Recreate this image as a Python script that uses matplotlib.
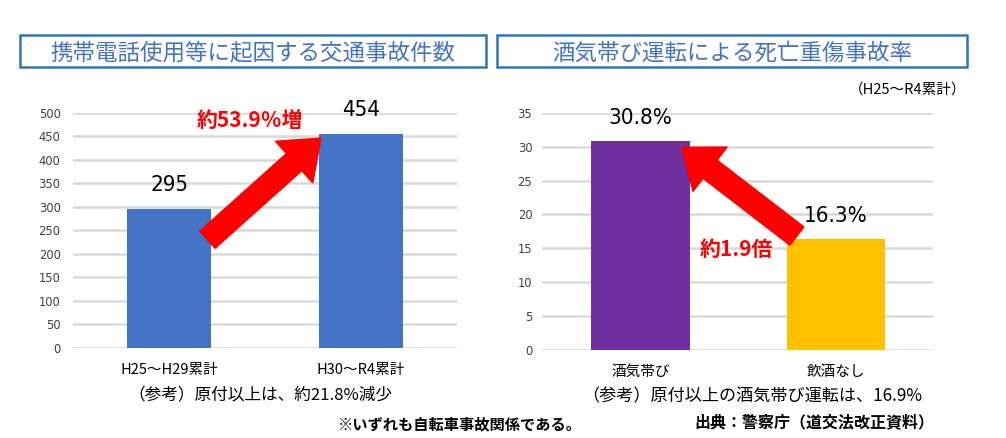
import matplotlib
matplotlib.use("Agg")
import matplotlib.pyplot as plt
import matplotlib.patches as mpatches
from matplotlib.transforms import IdentityTransform

plt.rcParams['font.family'] = ['Noto Sans CJK JP', 'DejaVu Sans']

# data
left_title = '携帯電話使用等に起因する交通事故件数'
left_cats = ['H25〜H29累計', 'H30〜R4累計']
left_vals = [295, 454]
left_labels = ['295', '454']
left_note = '（参考）原付以上は、約21.8%減少'
left_callout = '約53.9％増'

right_title = '酒気帯び運転による死亡重傷事故率'
right_cats = ['酒気帯び', '飲酒なし']
right_vals = [30.8, 16.3]
right_labels = ['30.8%', '16.3%']
right_note = '（参考）原付以上の酒気帯び運転は、16.9%'
right_callout = '約1.9倍'
right_period = '（H25〜R4累計）'

footnote = '※いずれも自転車事故関係である。'
source = '出典：警察庁（道交法改正資料）'

W, H = 1006, 438
fig = plt.figure(figsize=(W / 100, H / 100), dpi=100)
fig.patch.set_facecolor('white')


def fx(x):
    return x / W


def fy(y):
    return 1 - y / H


def axes_px(x0, x1, y_top, y_bot):
    return [fx(x0), fy(y_bot), (x1 - x0) / W, (y_bot - y_top) / H]


def style_axes(ax, ticks, pad):
    for s in ax.spines.values():
        s.set_visible(False)
    ax.set_yticks(ticks)
    ax.tick_params(axis='y', length=0, pad=pad, labelsize=8.3, labelcolor='#404040')
    ax.tick_params(axis='x', length=0, pad=11, labelsize=10.5, labelcolor='black')
    ax.grid(axis='y', color='#D9D9D9', linewidth=1.8)
    ax.set_axisbelow(True)
    for t in ax.get_yticklabels():
        t.set_family(['DejaVu Sans'])


def title_box(x0, x1, text):
    rect = mpatches.Rectangle((fx(x0), fy(67)), (x1 - x0) / W, 32 / H,
                              transform=fig.transFigure, fill=False,
                              edgecolor='#2E75B6', linewidth=1.8)
    fig.add_artist(rect)
    fig.text(fx((x0 + x1) / 2), fy(53), text, ha='center', va='center',
             fontsize=16.2, color='#4472C4')


def big_arrow(ax, tail, tip):
    t0 = ax.transData.transform(tail)
    t1 = ax.transData.transform(tip)
    arr = mpatches.FancyArrow(t0[0], t0[1], t1[0] - t0[0], t1[1] - t0[1],
                              width=23, head_width=56, head_length=36,
                              length_includes_head=True, color='#FF0000',
                              transform=IdentityTransform(), zorder=5)
    fig.add_artist(arr)


# left chart
ax1 = fig.add_axes(axes_px(73, 457, 112.7, 348))
w1 = 0.4375
ax1.bar(range(len(left_vals)), left_vals, width=w1, color='#4472C4', zorder=2)
ax1.set_xlim(-0.5, 1.5)
ax1.set_ylim(0, 500)
ax1.set_xticks(range(len(left_cats)))
ax1.set_xticklabels(left_cats)
style_axes(ax1, range(0, 501, 50), 9)
for i, (v, lab) in enumerate(zip(left_vals, left_labels)):
    ax1.text(i, v + 30, lab, ha='center', va='bottom', fontsize=16,
             family=['DejaVu Sans'], fontstretch='condensed', clip_on=False)
ax1.text(0.42, 483, left_callout, ha='center', va='center', fontsize=15,
         color='#FF0000', fontweight='bold', clip_on=False)

# right chart
ax2 = fig.add_axes(axes_px(542, 933, 112.7, 350))
w2 = 0.506
ax2.bar(range(len(right_vals)), right_vals, width=w2,
        color=['#7030A0', '#FFC000'], zorder=2)
ax2.set_xlim(-0.504, 1.496)
ax2.set_ylim(0, 35)
ax2.set_xticks(range(len(right_cats)))
ax2.set_xticklabels(right_cats)
style_axes(ax2, range(0, 36, 5), 7)
for i, (v, lab) in enumerate(zip(right_vals, right_labels)):
    ax2.text(i, v + 2.0, lab, ha='center', va='bottom', fontsize=16,
             family=['DejaVu Sans'], fontstretch='condensed', clip_on=False)
ax2.text(0.49, 14.8, right_callout, ha='center', va='center', fontsize=15,
         color='#FF0000', fontweight='bold')

title_box(20, 486, left_title)
title_box(497, 967, right_title)

big_arrow(ax1, (0.2, 230), (1 - w1 / 2 + 0.01, 446))
big_arrow(ax2, (0.80, 16.8), (0.21, 29.9))

fig.text(fx(966), fy(90), right_period, ha='right', va='center', fontsize=10.5)
fig.text(fx(260), fy(395), left_note, ha='center', va='center', fontsize=12)
fig.text(fx(752), fy(396), right_note, ha='center', va='center', fontsize=12.3)
fig.text(fx(460), fy(424), footnote, ha='center', va='center', fontsize=11,
         fontweight='bold')
fig.text(fx(814), fy(422), source, ha='center', va='center', fontsize=11.5,
         fontweight='bold')

fig.savefig('out.png', dpi=100)
